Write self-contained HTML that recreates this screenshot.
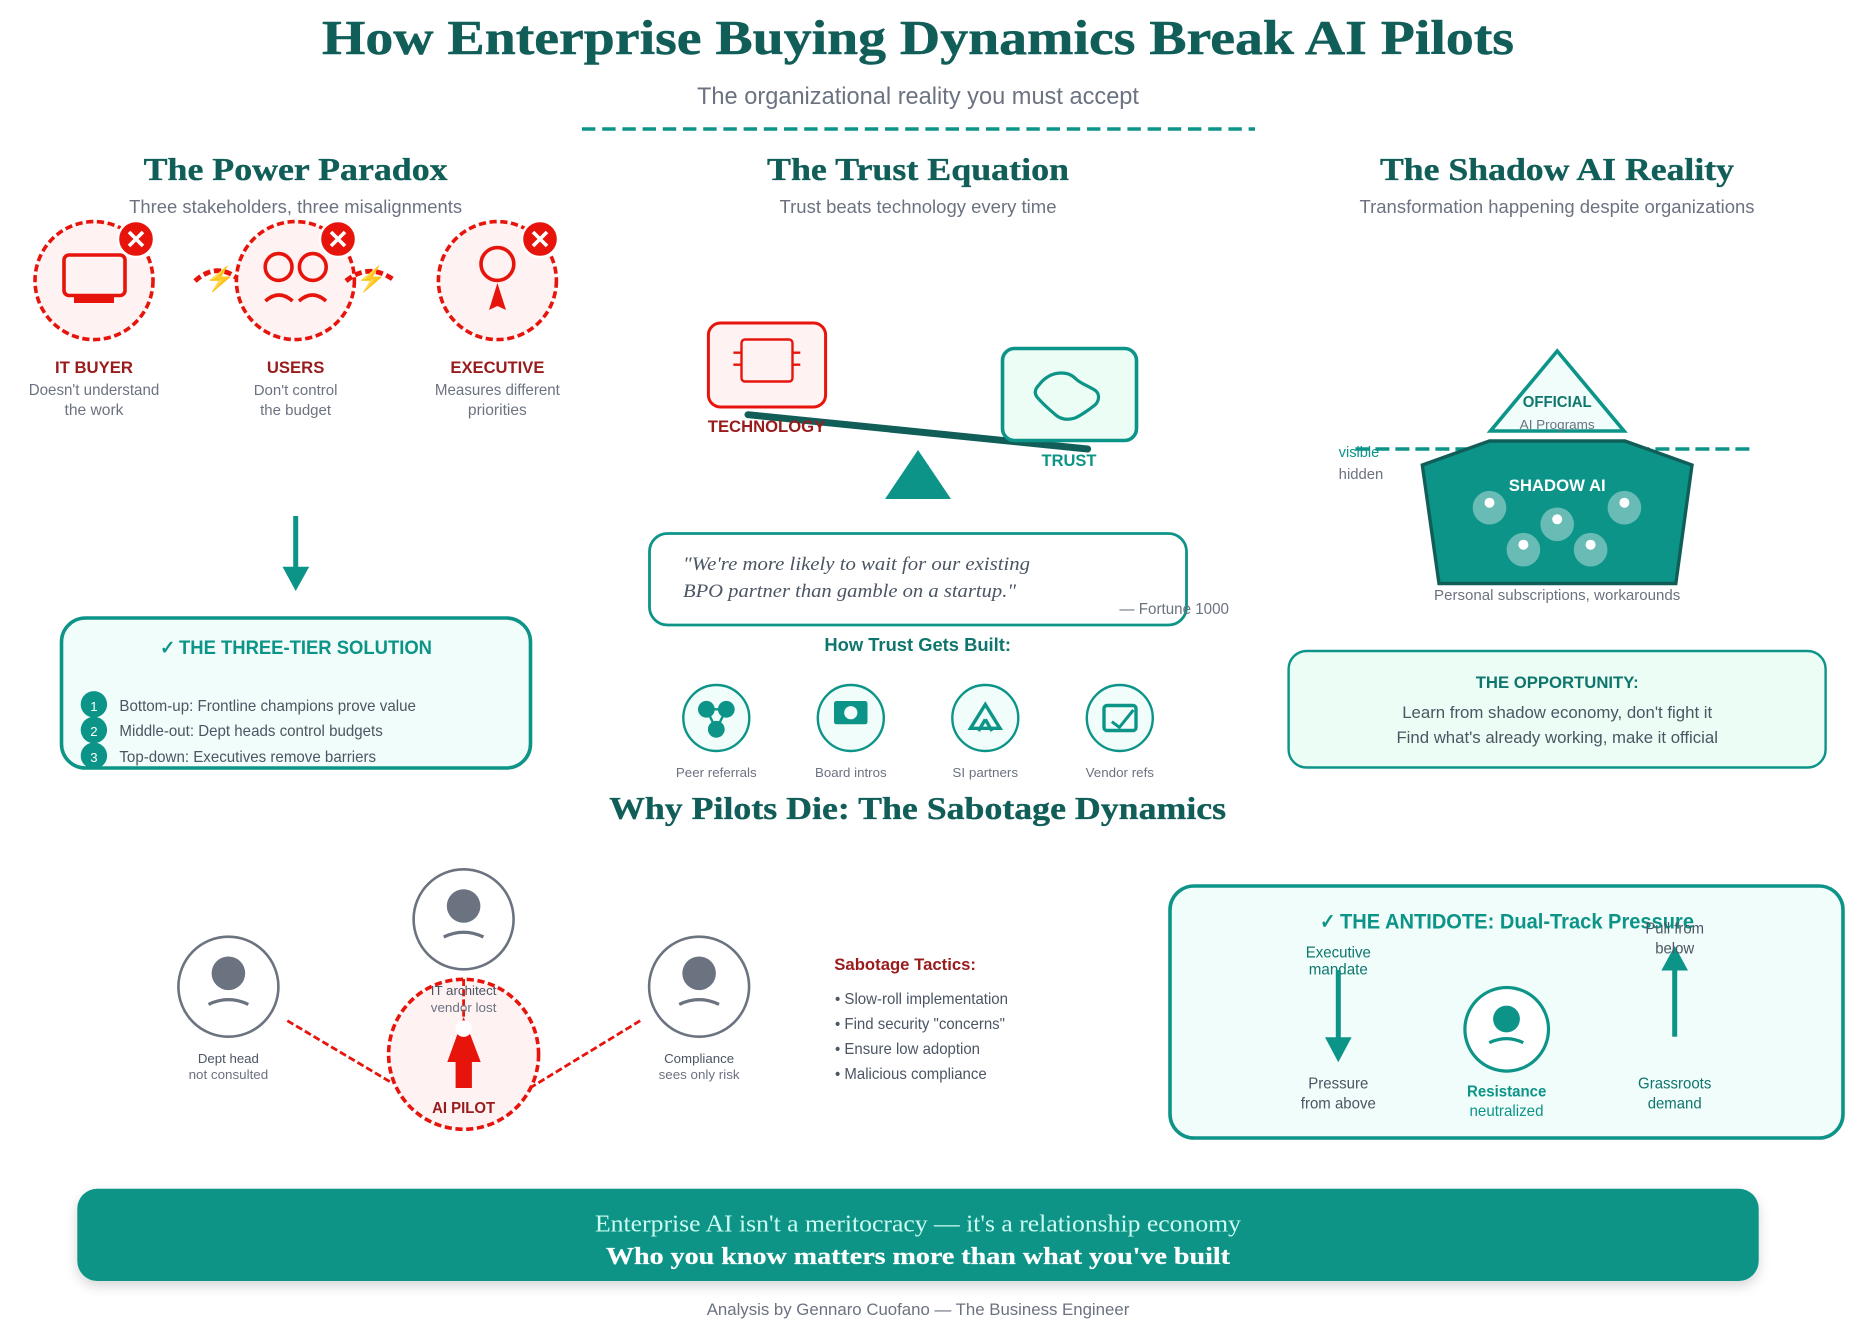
<!DOCTYPE html>
<html><head><meta charset="utf-8"><title>How Enterprise Buying Dynamics Break AI Pilots</title>
<style>
html,body{margin:0;padding:0;background:#fff}
svg{display:block}
text{font-family:"Liberation Sans",Arial,sans-serif}
.s{font-family:Georgia,"Liberation Serif",serif}
.m{text-anchor:middle}
.b{font-weight:700}
</style></head><body>
<svg xmlns="http://www.w3.org/2000/svg" width="1872" height="1334" viewBox="0 0 1872 1334">
<defs><filter id="sh" x="-5%" y="-30%" width="110%" height="170%"><feDropShadow dx="0" dy="5" stdDeviation="6" flood-color="#000" flood-opacity=".16"/></filter></defs>
<rect width="1872" height="1334" fill="#fff"/>

<!-- header -->
<text class="s m b" x="918" y="54" font-size="49" fill="#115e59" stroke="#115e59" stroke-width=".5" textLength="1192" lengthAdjust="spacingAndGlyphs">How Enterprise Buying Dynamics Break AI Pilots</text>
<text class="m" x="918" y="104" font-size="24" fill="#6b7280" textLength="442" lengthAdjust="spacingAndGlyphs">The organizational reality you must accept</text>
<line x1="582" y1="129" x2="1255" y2="129" stroke="#0d9488" stroke-width="3.6" stroke-dasharray="13.4 6.8"/>

<text class="s m b" x="295.6" y="180" font-size="31.2" fill="#115e59" stroke="#115e59" stroke-width=".35" textLength="304" lengthAdjust="spacingAndGlyphs">The Power Paradox</text>
<text class="m" x="295.6" y="213" font-size="18" fill="#6b7280" textLength="333" lengthAdjust="spacingAndGlyphs">Three stakeholders, three misalignments</text>
<text class="s m b" x="918" y="180" font-size="31.2" fill="#115e59" stroke="#115e59" stroke-width=".35" textLength="302" lengthAdjust="spacingAndGlyphs">The Trust Equation</text>
<text class="m" x="918" y="213" font-size="18" fill="#6b7280" textLength="277" lengthAdjust="spacingAndGlyphs">Trust beats technology every time</text>
<text class="s m b" x="1557" y="180" font-size="31.2" fill="#115e59" stroke="#115e59" stroke-width=".35" textLength="354" lengthAdjust="spacingAndGlyphs">The Shadow AI Reality</text>
<text class="m" x="1557" y="213" font-size="18" fill="#6b7280" textLength="395" lengthAdjust="spacingAndGlyphs">Transformation happening despite organizations</text>

<!-- power paradox -->
<g fill="#fef2f2" stroke="#e7140c" stroke-width="3.6" stroke-dasharray="7.2 3.6">
<circle cx="94" cy="280.6" r="59"/><circle cx="295.4" cy="280.6" r="59"/><circle cx="497.4" cy="280.6" r="59"/>
</g>
<g fill="none" stroke="#e7140c" stroke-width="4.8" stroke-dasharray="7.2 3.6">
<path d="M195 281Q216 262 237 278"/><path d="M346 281Q369 262 394 280"/>
</g>
<text class="m" x="220" y="287" font-size="24">⚡</text>
<text class="m" x="371.5" y="287" font-size="24">⚡</text>
<g fill="#e7140c" stroke="#fff" stroke-width="2.4">
<circle cx="136" cy="239" r="18"/><circle cx="338" cy="239" r="18"/><circle cx="540" cy="239" r="18"/>
</g>
<g stroke="#fff" stroke-width="3.6" fill="none">
<path d="M129 232l14 14M143 232l-14 14"/><path d="M331 232l14 14M345 232l-14 14"/><path d="M533 232l14 14M547 232l-14 14"/>
</g>
<!-- icons -->
<rect x="64" y="255" width="61" height="40.5" rx="5" fill="none" stroke="#e7140c" stroke-width="3.6"/>
<rect x="74" y="296" width="40" height="7" fill="#e7140c"/>
<g fill="none" stroke="#e7140c" stroke-width="3.6">
<circle cx="278.6" cy="267" r="13.4"/><circle cx="312.8" cy="267" r="13.4"/>
<path d="M265.4 301Q279 289 292.5 301"/><path d="M299 301Q312.5 289 326 301"/>
<circle cx="497.4" cy="264" r="16.4"/>
</g>
<path d="M497.4 283L506 310 497.4 306 489 310Z" fill="#e7140c"/>
<g text-anchor="middle">
<text class="b" x="94" y="373" font-size="16.8" fill="#991b1b" textLength="78" lengthAdjust="spacingAndGlyphs">IT BUYER</text>
<text x="94" y="395" font-size="15.6" fill="#6b7280" textLength="130.5" lengthAdjust="spacingAndGlyphs">Doesn't understand</text>
<text x="94" y="415" font-size="15.6" fill="#6b7280">the work</text>
<text class="b" x="295.6" y="373" font-size="16.8" fill="#991b1b" textLength="57.5" lengthAdjust="spacingAndGlyphs">USERS</text>
<text x="295.6" y="395" font-size="15" fill="#6b7280">Don't control</text>
<text x="295.6" y="415" font-size="15" fill="#6b7280">the budget</text>
<text class="b" x="497.4" y="373" font-size="16.8" fill="#991b1b" textLength="94" lengthAdjust="spacingAndGlyphs">EXECUTIVE</text>
<text x="497.4" y="395" font-size="15.6" fill="#6b7280" textLength="125" lengthAdjust="spacingAndGlyphs">Measures different</text>
<text x="497.4" y="415" font-size="15.6" fill="#6b7280">priorities</text>
</g>
<rect x="293.2" y="516" width="5" height="51" fill="#0d9488"/>
<path d="M282.5 566.7H309.2L295.7 591Z" fill="#0d9488"/>
<rect x="61.5" y="618" width="469" height="150" rx="24" fill="#f0fdfa" stroke="#0d9488" stroke-width="3.6"/>
<text class="b" x="160" y="654" font-size="19.2" fill="#0d9488" textLength="15.5" lengthAdjust="spacingAndGlyphs">✓</text>
<text class="b" x="179" y="654" font-size="19.2" fill="#0d9488" textLength="253" lengthAdjust="spacingAndGlyphs">THE THREE-TIER SOLUTION</text>
<g fill="#0d9488"><circle cx="93.9" cy="704.3" r="13.2"/><circle cx="93.9" cy="730" r="13.2"/><circle cx="93.9" cy="755.7" r="13.2"/></g>
<g fill="#fff" font-size="13.2" text-anchor="middle"><text x="93.9" y="711">1</text><text x="93.9" y="736">2</text><text x="93.9" y="762">3</text></g>
<g fill="#4b5563" font-size="15.6">
<text x="119.4" y="711" textLength="296.5" lengthAdjust="spacingAndGlyphs">Bottom-up: Frontline champions prove value</text>
<text x="119.4" y="736" textLength="263.4" lengthAdjust="spacingAndGlyphs">Middle-out: Dept heads control budgets</text>
<text x="119.4" y="762" textLength="256.7" lengthAdjust="spacingAndGlyphs">Top-down: Executives remove barriers</text>
</g>

<!-- trust equation -->
<line x1="748" y1="414.7" x2="1087.6" y2="449" stroke="#115e59" stroke-width="7" stroke-linecap="round"/>
<rect x="708.4" y="323" width="117.2" height="84" rx="12" fill="#fef2f2" stroke="#e7140c" stroke-width="3"/>
<rect x="741.5" y="339.5" width="51" height="42" rx="3.5" fill="none" stroke="#e7140c" stroke-width="2.4"/>
<path d="M733.4 352.7H741M733.4 364.7H741M792.7 352.7H800.3M792.7 364.7H800.3" stroke="#e7140c" stroke-width="2.4" fill="none"/>
<rect x="1002.5" y="348.5" width="134" height="92" rx="12" fill="#ecfdf5" stroke="#0d9488" stroke-width="3.6"/>
<path d="M1061 373C1068 373 1072 375 1076 379C1081 384 1091 387 1096 391C1100 395 1099 401 1095 405C1090 409 1080 416 1075 418C1069 420 1063 420 1057 416C1051 411 1042 403 1037 397C1034 393 1035 389 1039 385C1044 378 1052 373 1061 373Z" fill="none" stroke="#0d9488" stroke-width="3.2"/>
<path d="M918 450L951 499H885Z" fill="#0d9488"/>
<text class="b m" x="766.5" y="432" font-size="16.8" fill="#991b1b" textLength="117.4" lengthAdjust="spacingAndGlyphs">TECHNOLOGY</text>
<text class="b m" x="1069" y="466" font-size="16.8" fill="#0d9488" textLength="55" lengthAdjust="spacingAndGlyphs">TRUST</text>
<rect x="649.5" y="533.5" width="537" height="91.5" rx="18" fill="#fff" stroke="#0d9488" stroke-width="2.8"/>
<g font-style="italic" font-size="19.2" fill="#4b5563">
<text class="s" x="683" y="570" textLength="347" lengthAdjust="spacingAndGlyphs">"We're more likely to wait for our existing</text>
<text class="s" x="683" y="597" textLength="333" lengthAdjust="spacingAndGlyphs">BPO partner than gamble on a startup."</text>
</g>
<text x="1119.4" y="614" font-size="16" fill="#6b7280" textLength="109.6" lengthAdjust="spacingAndGlyphs">— Fortune 1000</text>
<text class="b m" x="917.7" y="651" font-size="18" fill="#0f766e" textLength="186.6" lengthAdjust="spacingAndGlyphs">How Trust Gets Built:</text>
<g fill="#f0fdfa" stroke="#0d9488" stroke-width="2.4">
<circle cx="716.3" cy="718" r="33"/><circle cx="850.8" cy="718" r="33"/><circle cx="985.3" cy="718" r="33"/><circle cx="1119.8" cy="718" r="33"/>
</g>
<path d="M706.4 709.3H726.3L716.3 729.3Z" fill="none" stroke="#0d9488" stroke-width="2.4"/>
<g fill="#0d9488"><circle cx="706.4" cy="709.3" r="8.4"/><circle cx="726.3" cy="709.3" r="8.4"/><circle cx="716.3" cy="729.3" r="8.4"/></g>
<rect x="834" y="701" width="33.5" height="23.3" rx="2.5" fill="#0d9488"/>
<circle cx="850.8" cy="712.7" r="6.6" fill="#f0fdfa"/>
<path d="M985.3 704.5L1000 728.3H970.5Z" fill="none" stroke="#0d9488" stroke-width="3.4"/>
<path d="M985.3 719.3L992 731M985.3 719.3L978.5 731" fill="none" stroke="#0d9488" stroke-width="3.4"/>
<rect x="1104" y="705.5" width="32" height="25" rx="3" fill="none" stroke="#0d9488" stroke-width="3.4"/>
<path d="M1111.8 721.7L1119.4 727.3 1133.4 710" fill="none" stroke="#0d9488" stroke-width="3"/>
<g fill="#6b7280" font-size="13.2" text-anchor="middle">
<text x="716.3" y="777" textLength="80.8" lengthAdjust="spacingAndGlyphs">Peer referrals</text>
<text x="850.8" y="777" textLength="71.6" lengthAdjust="spacingAndGlyphs">Board intros</text>
<text x="985.3" y="777" textLength="65.7" lengthAdjust="spacingAndGlyphs">SI partners</text>
<text x="1119.8" y="777" textLength="68.4" lengthAdjust="spacingAndGlyphs">Vendor refs</text>
</g>

<!-- shadow AI -->
<path d="M1557.2 351L1624 431H1490.5Z" fill="#f0fdfa" stroke="#0d9488" stroke-width="3.6"/>
<text class="b m" x="1557.2" y="407" font-size="15.6" fill="#0f766e" textLength="69" lengthAdjust="spacingAndGlyphs">OFFICIAL</text>
<text class="m" x="1557.2" y="429" font-size="13.2" fill="#6b7280" textLength="75" lengthAdjust="spacingAndGlyphs">AI Programs</text>
<line x1="1355.4" y1="449" x2="1754" y2="449" stroke="#0d9488" stroke-width="3.6" stroke-dasharray="14 6"/>
<path d="M1489.5 441H1624.8L1692 465 1675.8 583.5H1439L1422.3 465Z" fill="#0d9488" stroke="#115e59" stroke-width="3.4"/>
<text x="1338.7" y="457" font-size="14.4" fill="#0d9488" textLength="40.6" lengthAdjust="spacingAndGlyphs">visible</text>
<text x="1338.7" y="479" font-size="14.4" fill="#6b7280" textLength="44.6" lengthAdjust="spacingAndGlyphs">hidden</text>
<text class="b m" x="1557.2" y="491" font-size="16.8" fill="#fff" textLength="97" lengthAdjust="spacingAndGlyphs">SHADOW AI</text>
<g fill="#fff" fill-opacity=".38">
<circle cx="1489.5" cy="507.7" r="16.8"/><circle cx="1624.4" cy="507.7" r="16.8"/><circle cx="1557.2" cy="524.3" r="16.8"/><circle cx="1523.4" cy="549.7" r="16.8"/><circle cx="1590.6" cy="549.7" r="16.8"/>
</g>
<g fill="#fff">
<circle cx="1489.5" cy="502.7" r="5"/><circle cx="1624.4" cy="502.7" r="5"/><circle cx="1557.2" cy="519.3" r="5"/><circle cx="1523.4" cy="544.7" r="5"/><circle cx="1590.6" cy="544.7" r="5"/>
</g>
<text class="m" x="1557.2" y="600" font-size="15" fill="#6b7280" textLength="246.3" lengthAdjust="spacingAndGlyphs">Personal subscriptions, workarounds</text>
<rect x="1288.6" y="651" width="537" height="116.5" rx="18" fill="#ecfdf5" stroke="#0d9488" stroke-width="2.4"/>
<text class="b m" x="1557.2" y="688" font-size="16.8" fill="#0f766e" textLength="163" lengthAdjust="spacingAndGlyphs">THE OPPORTUNITY:</text>
<text class="m" x="1557.2" y="718" font-size="16.8" fill="#4b5563" textLength="310" lengthAdjust="spacingAndGlyphs">Learn from shadow economy, don't fight it</text>
<text class="m" x="1557.2" y="743" font-size="16.8" fill="#4b5563" textLength="321.5" lengthAdjust="spacingAndGlyphs">Find what's already working, make it official</text>

<!-- sabotage -->
<text class="s m b" x="917.6" y="819" font-size="31.2" fill="#115e59" stroke="#115e59" stroke-width=".35" textLength="617" lengthAdjust="spacingAndGlyphs">Why Pilots Die: The Sabotage Dynamics</text>
<g fill="#fff" stroke="#6b7280" stroke-width="2.6">
<circle cx="463.6" cy="919.3" r="50"/><circle cx="228.4" cy="986.7" r="50"/><circle cx="699.1" cy="986.7" r="50"/>
</g>
<g fill="#6b7280"><circle cx="463.6" cy="906" r="16.8"/><circle cx="228.4" cy="973.3" r="16.8"/><circle cx="699.1" cy="973.3" r="16.8"/></g>
<g fill="none" stroke="#6b7280" stroke-width="3.2">
<path d="M443.7 937Q463.6 927.5 483.5 937"/><path d="M208.5 1004.4Q228.4 994.9 248.3 1004.4"/><path d="M679.2 1004.4Q699.1 994.9 719 1004.4"/>
</g>
<circle cx="463.6" cy="1054.3" r="75" fill="#fef2f2" stroke="#e7140c" stroke-width="3.6" stroke-dasharray="7.2 3.6"/>
<g stroke="#e7140c" stroke-width="2.8" stroke-dasharray="7 3.2" fill="none">
<line x1="463.6" y1="979" x2="463.6" y2="1020"/>
<line x1="287.3" y1="1020.7" x2="392.7" y2="1083.3"/>
<line x1="640.2" y1="1020.7" x2="532" y2="1086.7"/>
</g>
<path d="M463.6 1017L480.7 1062H471.9V1088H455.6V1062H447.3Z" fill="#e7140c"/>
<circle cx="463.6" cy="1028.7" r="8.2" fill="#fff"/>
<text class="b m" x="463.6" y="1113" font-size="15.6" fill="#991b1b" textLength="63" lengthAdjust="spacingAndGlyphs">AI PILOT</text>
<g font-size="13.2" text-anchor="middle">
<text x="463.6" y="995" fill="#4b5563" textLength="65.7" lengthAdjust="spacingAndGlyphs">IT architect</text>
<text x="463.6" y="1012" fill="#6b7280" textLength="65.7" lengthAdjust="spacingAndGlyphs">vendor lost</text>
<text x="228.4" y="1063" fill="#4b5563" textLength="61" lengthAdjust="spacingAndGlyphs">Dept head</text>
<text x="228.4" y="1079" fill="#6b7280" textLength="79.6" lengthAdjust="spacingAndGlyphs">not consulted</text>
<text x="699.1" y="1063" fill="#4b5563" textLength="70" lengthAdjust="spacingAndGlyphs">Compliance</text>
<text x="699.1" y="1079" fill="#6b7280" textLength="81" lengthAdjust="spacingAndGlyphs">sees only risk</text>
</g>
<text class="b" x="834.3" y="970" font-size="16.8" fill="#991b1b" textLength="141.7" lengthAdjust="spacingAndGlyphs">Sabotage Tactics:</text>
<g fill="#4b5563" font-size="15.6">
<text x="835" y="1004" textLength="173" lengthAdjust="spacingAndGlyphs">• Slow-roll implementation</text>
<text x="835" y="1029" textLength="170" lengthAdjust="spacingAndGlyphs">• Find security "concerns"</text>
<text x="835" y="1054" textLength="145" lengthAdjust="spacingAndGlyphs">• Ensure low adoption</text>
<text x="835" y="1079" textLength="151.7" lengthAdjust="spacingAndGlyphs">• Malicious compliance</text>
</g>

<!-- antidote -->
<rect x="1170" y="886" width="673" height="252" rx="24" fill="#f0fdfa" stroke="#0d9488" stroke-width="3.6"/>
<text class="b" x="1320" y="928.3" font-size="21" fill="#0d9488" textLength="15.5" lengthAdjust="spacingAndGlyphs">✓</text>
<text class="b" x="1340" y="928.3" font-size="21" fill="#0d9488" textLength="354" lengthAdjust="spacingAndGlyphs">THE ANTIDOTE: Dual-Track Pressure</text>
<text class="m" x="1338.3" y="957.3" font-size="15.6" fill="#0f766e" textLength="65" lengthAdjust="spacingAndGlyphs">Executive</text>
<text class="m" x="1338.3" y="974.3" font-size="15.6" fill="#0f766e" textLength="59" lengthAdjust="spacingAndGlyphs">mandate</text>
<rect x="1335.8" y="970" width="5" height="68" fill="#0d9488"/>
<path d="M1325 1037.3H1351.6L1338.3 1062.3Z" fill="#0d9488"/>
<text class="m" x="1338.3" y="1088.3" font-size="15.6" fill="#4b5563" textLength="60" lengthAdjust="spacingAndGlyphs">Pressure</text>
<text class="m" x="1338.3" y="1108.3" font-size="15.6" fill="#4b5563" textLength="75" lengthAdjust="spacingAndGlyphs">from above</text>
<circle cx="1506.7" cy="1029.3" r="41.8" fill="#fff" stroke="#0d9488" stroke-width="3.2"/>
<circle cx="1506.5" cy="1019" r="13.4" fill="#0d9488"/>
<path d="M1489.3 1042.7Q1506.5 1034.5 1523.3 1042.7" fill="none" stroke="#0d9488" stroke-width="3.2"/>
<text class="b m" x="1506.7" y="1096.7" font-size="15.6" fill="#0d9488" textLength="79.3" lengthAdjust="spacingAndGlyphs">Resistance</text>
<text class="m" x="1506.5" y="1116" font-size="15.6" fill="#0d9488" textLength="74" lengthAdjust="spacingAndGlyphs">neutralized</text>
<rect x="1672.2" y="970" width="5" height="66.7" fill="#0d9488"/>
<path d="M1661.4 970.5H1688L1674.7 946Z" fill="#0d9488"/>
<text class="m" x="1674.7" y="933.3" font-size="15.6" fill="#4b5563" textLength="58.7" lengthAdjust="spacingAndGlyphs">Pull from</text>
<text class="m" x="1674.7" y="953.3" font-size="15.6" fill="#4b5563" textLength="39" lengthAdjust="spacingAndGlyphs">below</text>
<text class="m" x="1674.7" y="1088.3" font-size="15.6" fill="#0f766e" textLength="73.3" lengthAdjust="spacingAndGlyphs">Grassroots</text>
<text class="m" x="1674.7" y="1108.3" font-size="15.6" fill="#0f766e" textLength="54" lengthAdjust="spacingAndGlyphs">demand</text>

<!-- banner -->
<rect x="77.3" y="1188.7" width="1681.4" height="92.3" rx="20" fill="#079487" filter="url(#sh)"/>
<text class="s m" x="918" y="1231.5" font-size="24" fill="#ccfbf1" textLength="646" lengthAdjust="spacingAndGlyphs">Enterprise AI isn't a meritocracy — it's a relationship economy</text>
<text class="s m b" x="918" y="1264" font-size="24.5" fill="#fff" stroke="#fff" stroke-width=".25" textLength="624" lengthAdjust="spacingAndGlyphs">Who you know matters more than what you've built</text>
<text class="m" x="918" y="1315" font-size="16.8" fill="#6b7280" textLength="422.6" lengthAdjust="spacingAndGlyphs">Analysis by Gennaro Cuofano — The Business Engineer</text>
</svg>
</body></html>
